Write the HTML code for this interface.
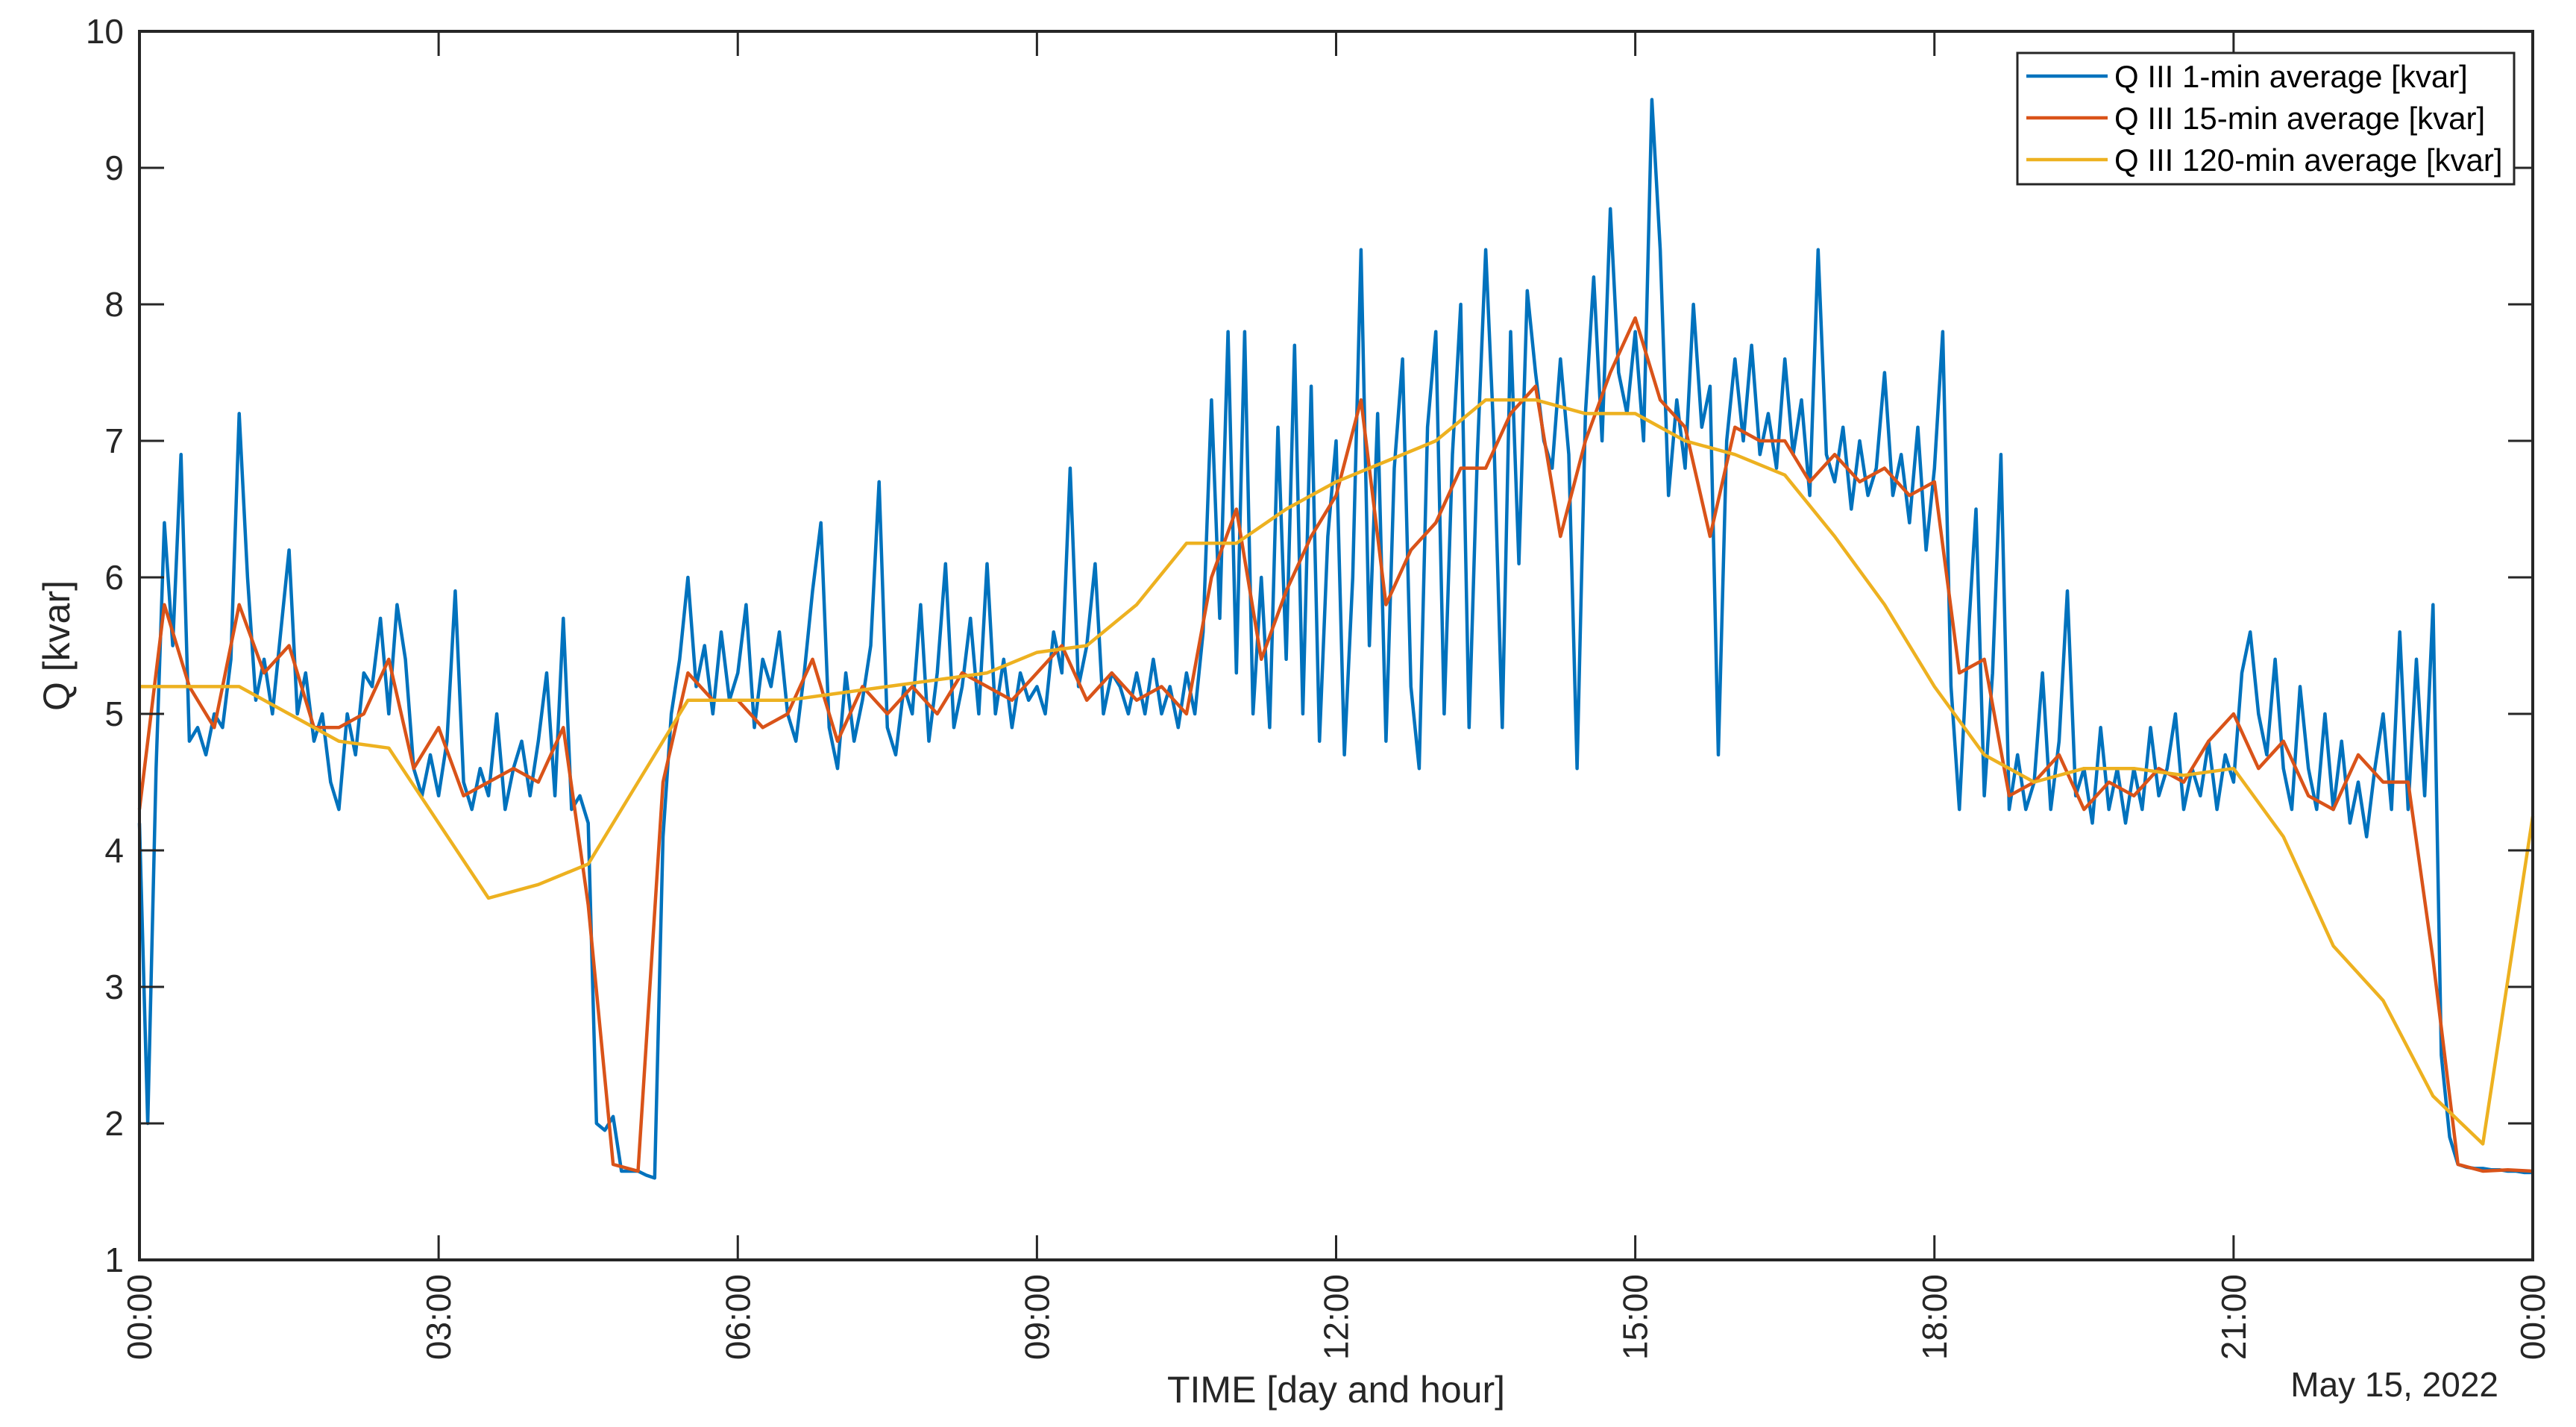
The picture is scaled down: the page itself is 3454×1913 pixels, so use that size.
<!DOCTYPE html>
<html><head><meta charset="utf-8"><style>
html,body{margin:0;padding:0;background:#fff;}
svg{display:block;font-family:"Liberation Sans",Arial,sans-serif;}
</style></head><body>
<svg id="chart" width="3454" height="1913" viewBox="0 0 3454 1913" xmlns="http://www.w3.org/2000/svg">
<rect x="0" y="0" width="3454" height="1913" fill="#fff"/>
<g id="marks"></g>
<g id="axes"></g>
</svg>
<script>
// ---- data ----
const xTickLabels = ["00:00","03:00","06:00","09:00","12:00","15:00","18:00","21:00","00:00"];
const xTickHours = [0,3,6,9,12,15,18,21,24];
const yTicks = [1,2,3,4,5,6,7,8,9,10];
// 1-min average sampled every 5 min (0:00 .. 24:00)
const q1min = [
4.2,2.0,4.6,6.4,5.5,6.9,4.8,4.9,4.7,5.0,4.9,5.4,
7.2,6.0,5.1,5.4,5.0,5.6,6.2,5.0,5.3,4.8,5.0,4.5,
4.3,5.0,4.7,5.3,5.2,5.7,5.0,5.8,5.4,4.6,4.4,4.7,
4.4,4.8,5.9,4.5,4.3,4.6,4.4,5.0,4.3,4.6,4.8,4.4,
4.8,5.3,4.4,5.7,4.3,4.4,4.2,2.0,1.95,2.05,1.65,1.65,
1.65,1.62,1.6,4.1,5.0,5.4,6.0,5.2,5.5,5.0,5.6,5.1,
5.3,5.8,4.9,5.4,5.2,5.6,5.0,4.8,5.3,5.9,6.4,4.9,
4.6,5.3,4.8,5.1,5.5,6.7,4.9,4.7,5.2,5.0,5.8,4.8,
5.3,6.1,4.9,5.2,5.7,5.0,6.1,5.0,5.4,4.9,5.3,5.1,
5.2,5.0,5.6,5.3,6.8,5.2,5.5,6.1,5.0,5.3,5.2,5.0,
5.3,5.0,5.4,5.0,5.2,4.9,5.3,5.0,5.6,7.3,5.7,7.8,
5.3,7.8,5.0,6.0,4.9,7.1,5.4,7.7,5.0,7.4,4.8,6.3,
7.0,4.7,6.0,8.4,5.5,7.2,4.8,6.8,7.6,5.2,4.6,7.1,
7.8,5.0,6.9,8.0,4.9,6.9,8.4,7.0,4.9,7.8,6.1,8.1,
7.5,7.0,6.8,7.6,6.9,4.6,7.2,8.2,7.0,8.7,7.5,7.2,
7.8,7.0,9.5,8.4,6.6,7.3,6.8,8.0,7.1,7.4,4.7,7.0,
7.6,7.0,7.7,6.9,7.2,6.8,7.6,6.9,7.3,6.6,8.4,6.9,
6.7,7.1,6.5,7.0,6.6,6.8,7.5,6.6,6.9,6.4,7.1,6.2,
6.8,7.8,5.2,4.3,5.5,6.5,4.4,5.3,6.9,4.3,4.7,4.3,
4.5,5.3,4.3,4.8,5.9,4.4,4.6,4.2,4.9,4.3,4.6,4.2,
4.6,4.3,4.9,4.4,4.6,5.0,4.3,4.6,4.4,4.8,4.3,4.7,
4.5,5.3,5.6,5.0,4.7,5.4,4.6,4.3,5.2,4.6,4.3,5.0,
4.3,4.8,4.2,4.5,4.1,4.6,5.0,4.3,5.6,4.3,5.4,4.4,
5.8,2.5,1.9,1.7,1.68,1.67,1.67,1.66,1.66,1.65,1.65,1.64,
1.64];
// 15-min average sampled every 15 min
const q15min = [
4.3,5.8,5.2,4.9, 5.8,5.3,5.5,4.9, 4.9,5.0,5.4,4.6, 4.9,4.4,4.5,4.6,
4.5,4.9,3.6,1.7, 1.65,4.5,5.3,5.1, 5.1,4.9,5.0,5.4, 4.8,5.2,5.0,5.2,
5.0,5.3,5.2,5.1, 5.3,5.5,5.1,5.3, 5.1,5.2,5.0,6.0, 6.5,5.4,5.9,6.3,
6.6,7.3,5.8,6.2, 6.4,6.8,6.8,7.2, 7.4,6.3,7.0,7.5, 7.9,7.3,7.1,6.3,
7.1,7.0,7.0,6.7, 6.9,6.7,6.8,6.6, 6.7,5.3,5.4,4.4, 4.5,4.7,4.3,4.5,
4.4,4.6,4.5,4.8, 5.0,4.6,4.8,4.4, 4.3,4.7,4.5,4.5, 3.2,1.7,1.65,1.66,
1.65];
// 120-min average sampled every 30 min
const q120min = [
5.2,5.2,5.2,5.0,4.8,4.75,4.2,3.65,3.75,3.9,4.5,5.1,
5.1,5.1,5.15,5.2,5.25,5.3,5.45,5.5,5.8,6.25,6.25,6.5,
6.7,6.85,7.0,7.3,7.3,7.2,7.2,7.0,6.9,6.75,6.3,5.8,
5.2,4.7,4.5,4.6,4.6,4.55,4.6,4.1,3.3,2.9,2.2,1.85,
4.25];

// ---- axes mapping ----
const X0=187, X1=3396, Y0=42, Y1=1689;
const xs = h => X0 + h/24*(X1-X0);
const ys = v => Y0 + (10-v)/9*(Y1-Y0);
const NS="http://www.w3.org/2000/svg";
const marks=document.getElementById('marks');
const axes=document.getElementById('axes');

function series(vals, stepH, color, name){
  let d='';
  vals.forEach((v,i)=>{d+=(i?'L':'M')+xs(i*stepH).toFixed(1)+' '+ys(v).toFixed(1);});
  const p=document.createElementNS(NS,'path');
  p.setAttribute('d',d);p.setAttribute('fill','none');p.setAttribute('stroke',color);
  p.setAttribute('stroke-width','4.5');p.setAttribute('stroke-linejoin','round');
  
  
  marks.appendChild(p);
}
series(q1min,5/60,'#0072BD','series-1-min');
series(q15min,0.25,'#D95319','series-15-min');
series(q120min,0.5,'#EDB120','series-120-min');

function el(tag,attrs,txt){const e=document.createElementNS(NS,tag);for(const k in attrs)e.setAttribute(k,attrs[k]);if(txt!==undefined)e.textContent=txt;axes.appendChild(e);return e;}

// box
const box=el('rect',{x:X0,y:Y0,width:X1-X0,height:Y1-Y0,fill:'none',stroke:'#262626','stroke-width':4});



// y ticks
yTicks.forEach(v=>{
  const y=ys(v);
  el('line',{x1:X0,y1:y,x2:X0+33,y2:y,stroke:'#262626','stroke-width':3});
  el('line',{x1:X1,y1:y,x2:X1-33,y2:y,stroke:'#262626','stroke-width':3});
  const t=el('text',{x:166,y:y+16,'text-anchor':'end','font-size':46,fill:'#262626'},String(v));
  
  
});
// x ticks
xTickHours.forEach((h,i)=>{
  const x=xs(h);
  el('line',{x1:x,y1:Y1,x2:x,y2:Y1-33,stroke:'#262626','stroke-width':3});
  el('line',{x1:x,y1:Y0,x2:x,y2:Y0+33,stroke:'#262626','stroke-width':3});
  const t=el('text',{transform:`translate(${x+16},${Y1+19}) rotate(-90)`,'text-anchor':'end','font-size':46,fill:'#262626'},xTickLabels[i]);
  
  
});
const yl=el('text',{transform:`translate(93,${(Y0+Y1)/2}) rotate(-90)`,'text-anchor':'middle','font-size':50,fill:'#262626'},'Q [kvar]');


const xl=el('text',{x:(X0+X1)/2,y:1880,'text-anchor':'middle','font-size':50,fill:'#262626'},'TIME [day and hour]');


const dl=el('text',{x:3350,y:1872,'text-anchor':'end','font-size':46,fill:'#262626'},'May 15, 2022');



// legend
const lg=el('rect',{x:2705,y:71,width:666,height:176,fill:'#fff',stroke:'#262626','stroke-width':3});


const legNames=['Q III 1-min average [kvar]','Q III 15-min average [kvar]','Q III 120-min average [kvar]'];
const legColors=['#0072BD','#D95319','#EDB120'];
legNames.forEach((n,i)=>{
  const y=102+i*56;
  el('line',{x1:2717,y1:y,x2:2826,y2:y,stroke:legColors[i],'stroke-width':4.5});
  const t=el('text',{x:2835,y:y+15,'font-size':42,fill:'#000'},n);
  
  
});
</script>
</body></html>
